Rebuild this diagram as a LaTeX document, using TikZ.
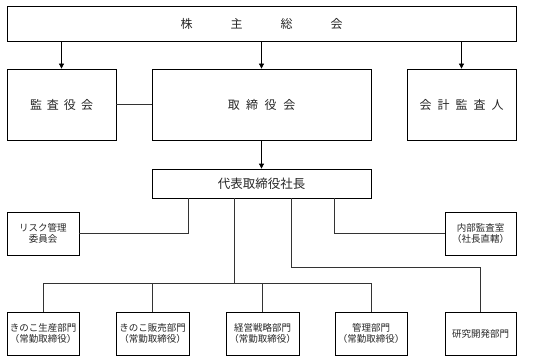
\documentclass[tikz,border=0pt]{standalone}
\usepackage{fontspec}
\setmainfont{Noto Sans CJK JP}
\usetikzlibrary{arrows.meta,calc}
\tikzset{
  box/.style={draw, line width=0.8pt, rectangle, inner sep=0pt, align=center, text=black!85},
  big/.style={box, font=\fontsize{12}{14}\selectfont},
  small/.style={box, font=\fontsize{9.5}{11.5}\selectfont},
  arr/.style={line width=0.8pt, -{Triangle[length=5pt,width=5pt]}},
  ln/.style={line width=0.8pt, black!80}
}
\begin{document}
\begin{tikzpicture}[x=1pt,y=-1pt]
\useasboundingbox (0,0) rectangle (533,361);
\node[big, minimum width=509pt, minimum height=35pt] (top) at (261.5,23.5) {株\hspace{38pt}主\hspace{38pt}総\hspace{38pt}会};
\node[big, minimum width=109pt, minimum height=71pt] (kansa) at (61.5,104.5) {監\hspace{5pt}査\hspace{5pt}役\hspace{5pt}会};
\node[big, minimum width=219pt, minimum height=71pt] (tori) at (261.5,104.5) {取\hspace{6.5pt}締\hspace{6.5pt}役\hspace{6.5pt}会};
\node[big, minimum width=109pt, minimum height=71pt] (kaikei) at (461.5,104.5) {会\hspace{6pt}計\hspace{6pt}監\hspace{6pt}査\hspace{6pt}人};
\node[big, font=\fontsize{12.5}{14}\selectfont, minimum width=219pt, minimum height=29pt] (daihyo) at (261.5,183.5) {代表取締役社長};
\node[small, minimum width=72pt, minimum height=43pt] (risk) at (43,233.5) {リスク管理\\委員会};
\node[small, minimum width=71pt, minimum height=43pt] (naibu) at (480.5,233.5) {内部監査室\\（社長直轄）};
\node[small, minimum width=72pt, minimum height=43pt] (b1) at (43,333.5) {きのこ生産部門\\（常勤取締役）};
\node[small, minimum width=73pt, minimum height=43pt] (b2) at (152.5,333.5) {きのこ販売部門\\（常勤取締役）};
\node[small, minimum width=73pt, minimum height=43pt] (b3) at (262.5,333.5) {経営戦略部門\\（常勤取締役）};
\node[small, minimum width=72pt, minimum height=43pt] (b4) at (371,333.5) {管理部門\\（常勤取締役）};
\node[small, minimum width=71pt, minimum height=43pt] (b5) at (480.5,333.5) {研究開発部門};

\draw[arr] (kansa.north |- top.south) -- (kansa.north);
\draw[arr] (tori.north |- top.south) -- (tori.north);
\draw[arr] (kaikei.north |- top.south) -- (kaikei.north);
\draw[arr] (tori.south) -- (daihyo.north);
\draw[ln] (kansa.east) -- (tori.west);

\draw[ln] ([xshift=-73.5pt]daihyo.south) |- (risk.east);
\draw[ln] ([xshift=72.5pt]daihyo.south) |- (naibu.west);
\coordinate (bus) at ([xshift=-27.5pt,yshift=-85pt]daihyo.south);
\draw[ln] ([xshift=-27.5pt]daihyo.south) -- (bus);
\draw[ln] (b1.north) -- (b1.north |- bus) -- (b4.north |- bus) -- (b4.north);
\draw[ln] (b2.north) -- (b2.north |- bus);
\draw[ln] (b3.north) -- (b3.north |- bus);
\coordinate (rd) at ([yshift=44pt]b5.north);
\draw[ln] ([xshift=29.5pt]daihyo.south) |- (rd) -- (b5.north);
\end{tikzpicture}
\end{document}
